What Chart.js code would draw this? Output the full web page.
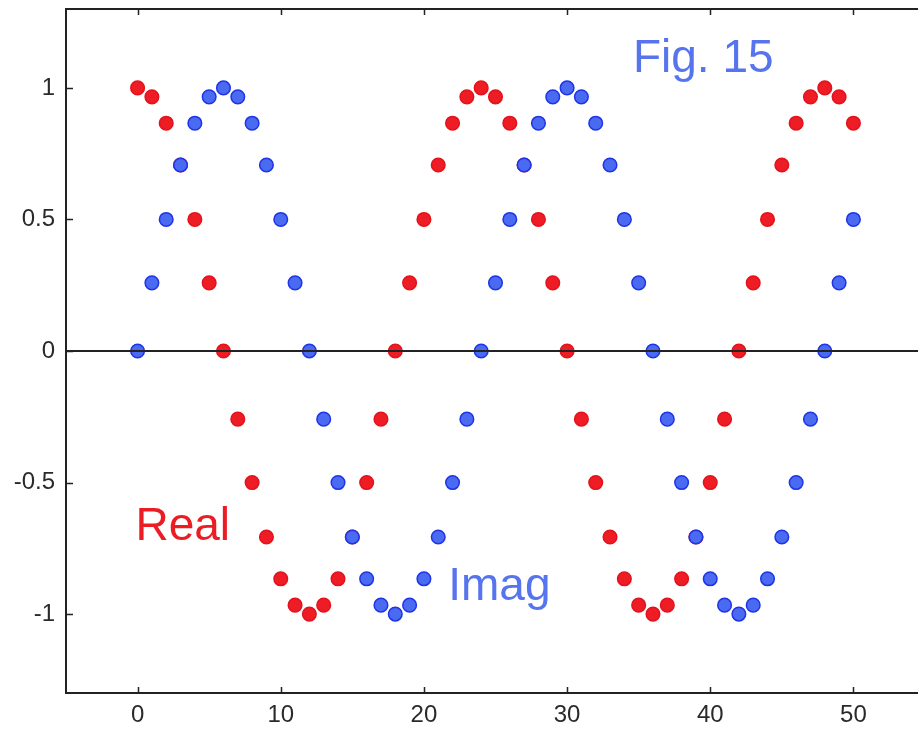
<!DOCTYPE html>
<html>
<head>
<meta charset="utf-8">
<script src="https://cdn.jsdelivr.net/npm/chart.js@4.4.1/dist/chart.umd.min.js"></script>
<style>
  html, body { margin: 0; padding: 0; background: #fff; overflow: hidden; }
  #wrap { width: 940px; height: 729px; position: relative; }
</style>
</head>
<body>
<div id="wrap"><canvas id="myChartArea"></canvas></div>
<script>
// sample index
var n = [0,1,2,3,4,5,6,7,8,9,10,11,12,13,14,15,16,17,18,19,20,21,22,23,24,25,
         26,27,28,29,30,31,32,33,34,35,36,37,38,39,40,41,42,43,44,45,46,47,48,49,50];

// red dots
var realPart = [1,0.966,0.866,0.707,0.5,0.259,0,-0.259,-0.5,-0.707,-0.866,-0.966,
                -1,-0.966,-0.866,-0.707,-0.5,-0.259,0,0.259,0.5,0.707,0.866,0.966,
                1,0.966,0.866,0.707,0.5,0.259,0,-0.259,-0.5,-0.707,-0.866,-0.966,
                -1,-0.966,-0.866,-0.707,-0.5,-0.259,0,0.259,0.5,0.707,0.866,0.966,
                1,0.966,0.866];

// blue dots
var imagPart = [0,0.259,0.5,0.707,0.866,0.966,1,0.966,0.866,0.707,0.5,0.259,
                0,-0.259,-0.5,-0.707,-0.866,-0.966,-1,-0.966,-0.866,-0.707,-0.5,-0.259,
                0,0.259,0.5,0.707,0.866,0.966,1,0.966,0.866,0.707,0.5,0.259,
                0,-0.259,-0.5,-0.707,-0.866,-0.966,-1,-0.966,-0.866,-0.707,-0.5,-0.259,
                0,0.259,0.5];

var xTicks = [0,10,20,30,40,50];
var yTicks = [-1,-0.5,0,0.5,1];

var fontFam = "'Liberation Sans', Arial, sans-serif";
var textBlue = '#5574ee';
var textRed = '#ec1c24';

// text labels, placed in data units
var notes = [
  { text: 'Fig. 15', x: 34.6, y: 1.06, color: textBlue },
  { text: 'Real', x: -0.15, y: -0.72, color: textRed },
  { text: 'Imag', x: 21.7, y: -0.948, color: textBlue }
];

var framePlugin = {
    id: 'frame',
    afterDatasetsDraw: function(chart) {
        var ctx = chart.ctx;
        var a = chart.chartArea;
        var xs = chart.scales.x;
        var ys = chart.scales.y;
        ctx.save();
        ctx.strokeStyle = '#222';
        ctx.lineWidth = 2;
        // zero line
        var y0 = ys.getPixelForValue(0);
        ctx.beginPath();
        ctx.moveTo(a.left, y0);
        ctx.lineTo(a.right, y0);
        ctx.stroke();
        // frame
        ctx.strokeRect(a.left, a.top, a.right - a.left, a.bottom - a.top);
        // inward ticks
        ctx.lineWidth = 1.5;
        ctx.beginPath();
        xTicks.forEach(function(v) {
            var px = Math.round(xs.getPixelForValue(v)) + 0.5;
            ctx.moveTo(px, a.bottom); ctx.lineTo(px, a.bottom - 6);
            ctx.moveTo(px, a.top); ctx.lineTo(px, a.top + 6);
        });
        yTicks.forEach(function(v) {
            var py = Math.round(ys.getPixelForValue(v)) + 0.5;
            ctx.moveTo(a.left, py); ctx.lineTo(a.left + 7, py);
            ctx.moveTo(a.right, py); ctx.lineTo(a.right - 7, py);
        });
        ctx.stroke();
        // notes
        ctx.font = '46px ' + fontFam;
        ctx.textAlign = 'left';
        ctx.textBaseline = 'alphabetic';
        notes.forEach(function(t) {
            ctx.fillStyle = t.color;
            ctx.fillText(t.text, xs.getPixelForValue(t.x), ys.getPixelForValue(t.y));
        });
        ctx.restore();
    }
};

var ctx_fig = document.getElementById('myChartArea');
var chart_fig = new Chart(ctx_fig, {
    type: 'scatter',
    data: {
        datasets: [
            {
                label: 'Real',
                data: n.map(function(v, i) { return { x: v, y: realPart[i] }; }),
                backgroundColor: '#ee1c24',
                borderColor: '#e3131c',
                borderWidth: 1.5,
                pointRadius: 6.8,
                order: 1
            },
            {
                label: 'Imag',
                data: n.map(function(v, i) { return { x: v, y: imagPart[i] }; }),
                backgroundColor: '#4a6af2',
                borderColor: '#1f34e6',
                borderWidth: 1.5,
                pointRadius: 6.8,
                order: 0
            }
        ]
    },
    options: {
        responsive: true,
        maintainAspectRatio: false,
        animation: false,
        layout: { padding: { left: 0, top: 9, right: 15, bottom: 0 } },
        plugins: { legend: { display: false }, tooltip: { enabled: false } },
        scales: {
            x: {
                type: 'linear',
                min: -5,
                max: 55,
                afterBuildTicks: function(s) { s.ticks = xTicks.map(function(v) { return { value: v }; }); },
                afterFit: function(s) { s.height = 36; s.paddingLeft = 0; s.paddingRight = 0; },
                grid: { display: false, drawTicks: false },
                border: { display: false },
                ticks: { padding: 8, color: '#2a2a2a', font: { family: fontFam, size: 24 }, maxRotation: 0,
                         callback: function(v) { return String(v); } }
            },
            y: {
                type: 'linear',
                min: -1.3,
                max: 1.3,
                afterBuildTicks: function(s) { s.ticks = yTicks.map(function(v) { return { value: v }; }); },
                afterFit: function(s) { s.width = 66; s.paddingTop = 0; s.paddingBottom = 0; },
                grid: { display: false, drawTicks: false },
                border: { display: false },
                ticks: { padding: 11, color: '#2a2a2a', font: { family: fontFam, size: 24 },
                         callback: function(v) { return String(v); } }
            }
        }
    },
    plugins: [framePlugin]
});
</script>
</body>
</html>
